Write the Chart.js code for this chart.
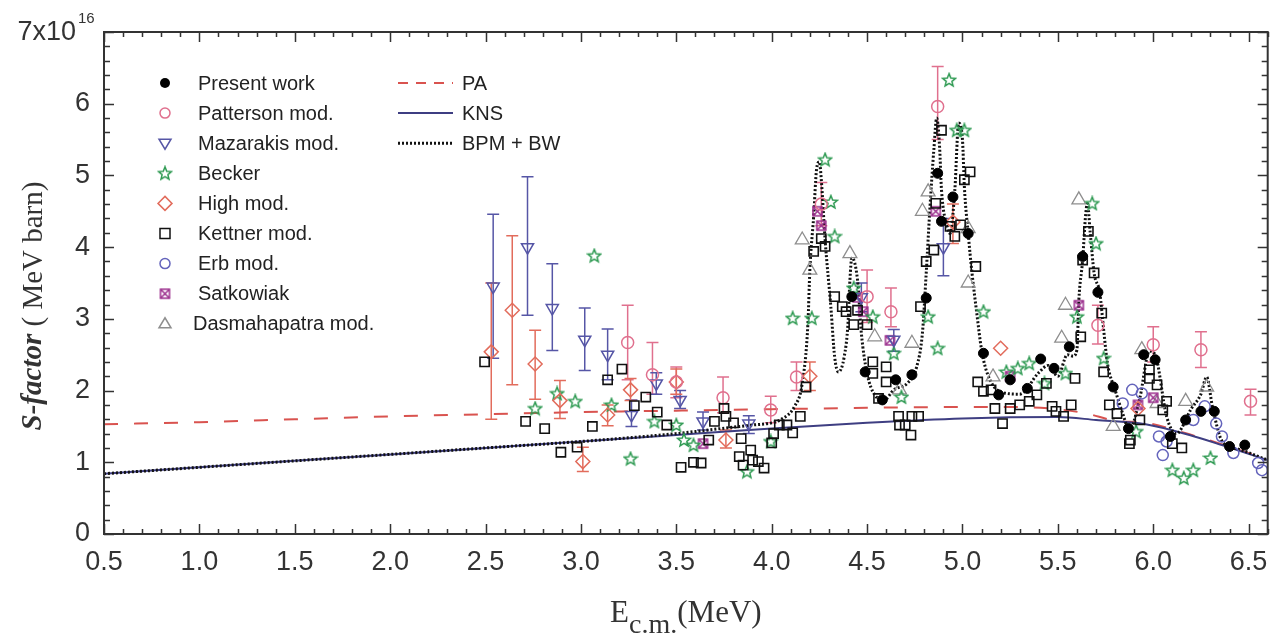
<!DOCTYPE html>
<html><head><meta charset="utf-8">
<script src="https://cdn.jsdelivr.net/npm/chart.js@4/dist/chart.umd.min.js"></script>
<style>html,body{margin:0;padding:0;background:#fff;}canvas{display:block;}</style>
</head><body>
<canvas id="c" width="1277" height="634"></canvas>
<script>
// ---------------- DATA ----------------
const xTickValues = [0.5,1.0,1.5,2.0,2.5,3.0,3.5,4.0,4.5,5.0,5.5,6.0,6.5];
const yTickLabels = ['0','1','2','3','4','5','6'];

const presentX = [4.42,4.49,4.58,4.65,4.735,4.81,4.87,4.89,4.95,5.03,5.11,5.19,5.25,5.34,5.41,5.48,5.56,5.63,5.71,5.79,5.87,5.95,6.01,6.09,6.17,6.25,6.32,6.40,6.48];
const presentY = [3.31,2.26,1.87,2.15,2.22,3.29,5.03,4.36,4.70,4.19,2.52,1.94,2.15,2.03,2.44,2.31,2.61,3.87,3.37,2.05,1.47,2.50,2.43,1.36,1.59,1.71,1.71,1.22,1.24];

const pattX  = [3.245,3.375,3.50,3.745,3.995,4.13,4.26,4.50,4.625,4.87,5.71,6.00,6.25,6.51];
const pattY  = [2.67,2.22,2.12,1.90,1.73,2.19,4.60,3.31,3.10,5.96,2.91,2.64,2.57,1.85];
const pattLo = [2.15,1.95,1.90,1.69,1.55,2.00,4.30,2.95,2.89,5.50,2.65,2.40,2.32,1.66];
const pattHi = [3.19,2.67,2.33,2.19,1.92,2.40,4.90,3.68,3.43,6.52,3.19,2.89,2.82,2.02];

const mazX  = [2.54,2.72,2.85,3.02,3.14,3.265,3.395,3.52,3.64,3.88,4.47,4.64,4.90];
const mazY  = [3.45,4.00,3.15,2.71,2.50,1.66,2.10,1.87,1.57,1.54,3.30,2.71,4.00];
const mazLo = [2.45,3.05,2.56,2.28,2.15,1.50,1.95,1.75,1.45,1.40,3.10,2.55,3.60];
const mazHi = [4.46,4.98,3.77,3.15,2.86,1.87,2.25,2.00,1.70,1.65,3.50,2.85,4.40];

const beckerX = [2.76,2.875,2.97,3.07,3.16,3.26,3.385,3.50,3.54,3.59,3.87,3.995,4.11,4.21,4.28,4.31,4.33,4.43,4.53,4.64,4.68,4.82,4.87,4.93,4.97,5.01,5.11,5.23,5.29,5.35,5.43,5.54,5.60,5.68,5.70,5.74,5.91,6.10,6.16,6.21,6.30];
const beckerY = [1.75,1.96,1.85,3.88,1.80,1.05,1.57,1.52,1.31,1.24,0.87,1.29,3.01,3.01,5.22,4.63,4.15,3.43,3.03,2.52,1.91,3.03,2.59,6.33,5.63,5.63,3.10,2.26,2.31,2.38,2.10,2.24,3.03,4.61,4.05,2.45,1.43,0.89,0.78,0.89,1.06];

const highX  = [2.53,2.64,2.76,2.89,3.01,3.14,3.26,3.50,3.76,4.20,4.95,5.20,5.92];
const highY  = [2.54,3.12,2.37,1.86,1.01,1.66,2.01,2.12,1.31,2.20,4.35,2.59,1.75];
const highLo = [1.60,2.08,1.88,1.61,0.87,1.51,1.86,1.95,1.20,2.00,4.05,2.59,1.75];
const highHi = [3.50,4.16,2.84,2.14,1.21,1.80,2.17,2.30,1.45,2.40,4.60,2.59,1.75];

const kettnerX = [2.495,2.71,2.81,2.895,2.98,3.06,3.14,3.215,3.28,3.34,3.40,3.45,3.525,3.59,3.63,3.67,3.70,3.75,3.76,3.80,3.83,3.84,3.85,3.89,3.90,3.93,3.96,4.00,4.01,4.04,4.08,4.11,4.15,4.18,4.22,4.26,4.28,4.33,4.37,4.39,4.43,4.45,4.50,4.53,4.53,4.56,4.60,4.60,4.665,4.67,4.70,4.73,4.735,4.77,4.78,4.81,4.85,4.86,4.89,4.935,4.96,4.99,5.01,5.04,5.07,5.08,5.11,5.15,5.17,5.21,5.25,5.30,5.35,5.39,5.44,5.47,5.49,5.53,5.57,5.59,5.62,5.63,5.66,5.69,5.73,5.74,5.77,5.81,5.875,5.88,5.93,5.98,5.98,6.02,6.05,6.07,6.10,6.15];
const kettnerY = [2.40,1.57,1.47,1.14,1.21,1.50,2.15,2.30,1.79,1.91,1.70,1.52,0.93,1.00,0.99,1.31,1.57,1.75,1.64,1.55,1.08,1.33,0.96,1.17,1.03,1.01,0.92,1.27,1.40,1.52,1.52,1.41,1.64,2.05,3.94,4.12,4.01,3.31,3.17,3.10,2.92,3.12,2.92,2.40,2.24,1.89,2.33,2.12,1.64,1.52,1.52,1.38,1.64,1.64,3.17,3.80,3.96,4.61,5.63,4.29,4.15,4.31,4.94,5.05,3.73,2.12,1.99,2.01,1.75,1.54,1.75,1.80,1.85,1.94,2.10,1.78,1.71,1.64,1.80,2.17,2.75,3.82,4.22,3.64,3.08,2.26,1.80,1.68,1.26,1.31,1.59,2.29,2.17,2.08,1.73,1.85,1.26,1.20];

const erbX = [5.84,5.89,5.94,6.03,6.05,6.07,6.21,6.27,6.33,6.36,6.42,6.55,6.57];
const erbY = [1.82,2.01,1.96,1.36,1.10,1.29,1.59,1.78,1.54,1.36,1.13,0.99,0.89];

const satX = [3.64,4.24,4.26,4.45,4.48,4.62,4.86,5.25,5.61,5.92,6.00];
const satY = [1.26,4.50,4.30,3.30,3.10,2.70,4.50,2.20,3.19,1.80,1.90];

const dasX = [4.16,4.20,4.41,4.54,4.67,4.735,4.79,4.82,5.03,5.03,5.16,5.52,5.54,5.61,5.79,5.94,6.02,6.17,6.28];
const dasY = [4.10,3.68,3.91,2.75,2.01,2.66,4.50,4.77,4.26,3.50,2.19,2.73,3.19,4.66,1.50,2.57,1.82,1.85,2.05];

const paX = [0.5,1.0,1.5,2.0,2.5,3.0,3.5,4.0,4.5,5.0,5.3,5.5,5.65,5.8,5.96,6.19,6.36,6.6];
const paY = [1.53,1.56,1.60,1.64,1.67,1.70,1.72,1.74,1.76,1.77,1.77,1.74,1.68,1.58,1.55,1.39,1.25,1.04];

const knsX = [0.5,1.0,1.5,2.0,2.5,3.0,3.5,4.0,4.5,5.0,5.5,5.7,5.96,6.19,6.36,6.6];
const knsY = [0.84,0.93,1.02,1.11,1.20,1.29,1.38,1.47,1.55,1.61,1.63,1.59,1.53,1.38,1.24,1.03];

const bpmX = [0.5,1.0,1.5,2.0,2.5,3.0,3.5,3.7,3.9,4.0,4.05,4.12,4.16,4.19,4.20,4.22,4.235,4.25,4.26,4.28,4.31,4.33,4.35,4.38,4.40,4.41,4.42,4.45,4.47,4.50,4.54,4.59,4.64,4.71,4.76,4.79,4.81,4.83,4.85,4.865,4.88,4.89,4.92,4.935,4.96,4.98,5.00,5.01,5.03,5.05,5.075,5.10,5.13,5.2,5.3,5.4,5.45,5.5,5.55,5.58,5.60,5.61,5.63,5.645,5.655,5.67,5.69,5.72,5.74,5.76,5.80,5.84,5.875,5.93,5.98,6.01,6.07,6.12,6.20,6.25,6.28,6.31,6.36,6.45,6.6];
const bpmY = [0.84,0.93,1.02,1.11,1.20,1.29,1.40,1.46,1.52,1.55,1.60,1.78,2.10,2.94,3.68,4.43,5.08,5.19,4.94,4.10,3.17,2.47,2.26,2.47,2.94,3.54,3.85,3.54,2.80,2.24,1.94,1.87,2.01,2.10,2.33,2.80,3.64,4.57,5.36,5.80,5.40,4.80,4.29,4.19,4.80,5.73,5.50,4.84,4.19,3.64,3.08,2.57,2.24,1.98,1.95,2.25,2.35,2.20,2.50,2.48,2.57,3.26,3.82,4.43,4.61,4.19,3.64,3.36,2.85,2.38,2.01,1.68,1.45,1.90,2.55,2.50,1.64,1.40,1.75,1.95,2.19,1.78,1.30,1.18,1.03];

// ---------------- helpers ----------------
function pts(xs, ys){ return xs.map((x,i)=>({x:x, y:ys[i]})); }

function makeStar(color){
  const c = document.createElement('canvas'); c.width = 16; c.height = 16;
  const g = c.getContext('2d'); g.strokeStyle = color; g.lineWidth = 1.5;
  g.beginPath();
  for (let k=0;k<10;k++){
    const r = (k%2===0)?6.8:3.0, a = -Math.PI/2 + k*Math.PI/5;
    const px = 8 + r*Math.cos(a), py = 8.4 + r*Math.sin(a);
    if(k===0) g.moveTo(px,py); else g.lineTo(px,py);
  }
  g.closePath(); g.stroke();
  return c;
}
function makeSat(color){
  const c = document.createElement('canvas'); c.width = 13; c.height = 13;
  const g = c.getContext('2d'); g.strokeStyle = color; g.lineWidth = 1.5;
  g.strokeRect(2,2,9,9);
  g.beginPath(); g.moveTo(2,2); g.lineTo(11,11); g.moveTo(11,2); g.lineTo(2,11); g.stroke();
  return c;
}

const COL = {
  present:'#000000', patt:'#e0708e', maz:'#5656a6', becker:'#2e9a52', high:'#e26c5c',
  kettner:'#111111', erb:'#6464bc', sat:'#9a2c8c', das:'#8e8e8e',
  pa:'#d9534f', kns:'#3e3e82', bpm:'#111111'
};
const starImg = makeStar(COL.becker);
const satImg = makeSat(COL.sat);

const NONE = 'rgba(0,0,0,0)';
const datasets = [
  {label:'Present work', data:pts(presentX,presentY), pointStyle:'circle', pointRadius:5, backgroundColor:COL.present, borderColor:COL.present, borderWidth:1, order:0},
  {label:'Kettner mod.', data:pts(kettnerX,kettnerY), pointStyle:'rect', pointRadius:6.5, backgroundColor:NONE, borderColor:COL.kettner, borderWidth:1.6, order:1},
  {label:'Patterson mod.', data:pts(pattX,pattY), errLo:pattLo, errHi:pattHi, pointStyle:'circle', pointRadius:6, backgroundColor:NONE, borderColor:COL.patt, borderWidth:1.5, order:2},
  {label:'Mazarakis mod.', data:pts(mazX,mazY), errLo:mazLo, errHi:mazHi, pointStyle:'triangle', rotation:180, pointRotation:180, pointRadius:7, backgroundColor:NONE, borderColor:COL.maz, borderWidth:1.5, order:3},
  {label:'High mod.', data:pts(highX,highY), errLo:highLo, errHi:highHi, pointStyle:'rectRot', pointRadius:7, backgroundColor:NONE, borderColor:COL.high, borderWidth:1.5, order:4},
  {label:'Becker', data:pts(beckerX,beckerY), pointStyle:starImg, pointRadius:7, backgroundColor:NONE, borderColor:COL.becker, order:5},
  {label:'Erb mod.', data:pts(erbX,erbY), pointStyle:'circle', pointRadius:5.5, backgroundColor:NONE, borderColor:COL.erb, borderWidth:1.5, order:6},
  {label:'Satkowiak', data:pts(satX,satY), pointStyle:satImg, pointRadius:6, backgroundColor:NONE, borderColor:COL.sat, order:7},
  {label:'Dasmahapatra mod.', data:pts(dasX,dasY), pointStyle:'triangle', pointRadius:8, backgroundColor:NONE, borderColor:COL.das, borderWidth:1.3, order:8},
  {label:'BPM + BW', data:pts(bpmX,bpmY), showLine:true, pointRadius:0, borderColor:COL.bpm, borderWidth:3, borderDash:[2,2], cubicInterpolationMode:'monotone', fill:false, order:10},
  {label:'KNS', data:pts(knsX,knsY), showLine:true, pointRadius:0, borderColor:COL.kns, borderWidth:2, cubicInterpolationMode:'monotone', fill:false, order:11},
  {label:'PA', data:pts(paX,paY), showLine:true, pointRadius:0, borderColor:COL.pa, borderWidth:2, borderDash:[14,16], cubicInterpolationMode:'monotone', fill:false, order:12}
];

// ---------------- plugins ----------------
const errorBars = {
  id:'errorBars',
  beforeDatasetsDraw(chart){
    const ctx = chart.ctx, xs = chart.scales.x, ys = chart.scales.y, a = chart.chartArea;
    ctx.save();
    ctx.beginPath(); ctx.rect(a.left,a.top,a.right-a.left,a.bottom-a.top); ctx.clip();
    chart.data.datasets.forEach(ds=>{
      if(!ds.errLo) return;
      ctx.strokeStyle = ds.borderColor; ctx.lineWidth = 1.5;
      ds.data.forEach((p,i)=>{
        const lo = ds.errLo[i], hi = ds.errHi[i];
        if(lo==null || hi==null || hi-lo < 1e-6) return;
        const px = xs.getPixelForValue(p.x), pl = ys.getPixelForValue(lo), ph = ys.getPixelForValue(hi);
        ctx.beginPath();
        ctx.moveTo(px,pl); ctx.lineTo(px,ph);
        ctx.moveTo(px-6,pl); ctx.lineTo(px+6,pl);
        ctx.moveTo(px-6,ph); ctx.lineTo(px+6,ph);
        ctx.stroke();
      });
    });
    ctx.restore();
  }
};

function legendMarker(ctx, kind, x, y, color){
  ctx.save(); ctx.strokeStyle = color; ctx.fillStyle = color; ctx.lineWidth = 1.5;
  ctx.beginPath();
  if(kind==='dot'){ ctx.arc(x,y,5,0,2*Math.PI); ctx.fill(); }
  else if(kind==='circle'){ ctx.arc(x,y,5,0,2*Math.PI); ctx.stroke(); }
  else if(kind==='tdown'){ ctx.moveTo(x-6,y-4); ctx.lineTo(x+6,y-4); ctx.lineTo(x,y+6); ctx.closePath(); ctx.stroke(); }
  else if(kind==='tup'){ ctx.moveTo(x-6,y+4); ctx.lineTo(x+6,y+4); ctx.lineTo(x,y-6); ctx.closePath(); ctx.stroke(); }
  else if(kind==='diamond'){ ctx.moveTo(x,y-7); ctx.lineTo(x+7,y); ctx.lineTo(x,y+7); ctx.lineTo(x-7,y); ctx.closePath(); ctx.stroke(); }
  else if(kind==='square'){ ctx.rect(x-5,y-5,10,10); ctx.stroke(); }
  else if(kind==='star'){ ctx.drawImage(starImg, x-8, y-8); }
  else if(kind==='sat'){ ctx.drawImage(satImg, x-6.5, y-6.5); }
  ctx.restore();
}

const legendRows = [
  ['dot','Present work',COL.present],
  ['circle','Patterson mod.',COL.patt],
  ['tdown','Mazarakis mod.',COL.maz],
  ['star','Becker',COL.becker],
  ['diamond','High mod.',COL.high],
  ['square','Kettner mod.',COL.kettner],
  ['circle','Erb mod.',COL.erb],
  ['sat','Satkowiak',COL.sat],
  ['tup','Dasmahapatra mod.',COL.das]
];
const legendLines = [
  ['PA',COL.pa,[10,8],2],
  ['KNS',COL.kns,[],2],
  ['BPM + BW',COL.bpm,[2,2],3]
];

const frame = {
  id:'frame',
  afterDraw(chart){
    const ctx = chart.ctx, a = chart.chartArea, xs = chart.scales.x, ys = chart.scales.y;
    ctx.save();
    // frame
    ctx.strokeStyle = '#333'; ctx.lineWidth = 2;
    ctx.strokeRect(a.left, a.top, a.right-a.left, a.bottom-a.top);
    // ticks
    ctx.lineWidth = 1.5;
    ctx.beginPath();
    for(let k=0;k<=61;k++){
      const v = 0.5 + k*0.1; if(v>6.6001) break;
      const px = Math.round(xs.getPixelForValue(v))+0.5;
      const major = (k%5===0);
      const L = major?10:5;
      ctx.moveTo(px,a.bottom); ctx.lineTo(px,a.bottom-L);
      ctx.moveTo(px,a.top); ctx.lineTo(px,a.top+L);
    }
    for(let k=0;k<=35;k++){
      const v = k*0.2;
      const py = Math.round(ys.getPixelForValue(v))+0.5;
      const major = (k%5===0);
      const L = major?10:6;
      ctx.moveTo(a.left,py); ctx.lineTo(a.left+L,py);
      ctx.moveTo(a.right,py); ctx.lineTo(a.right-L,py);
    }
    ctx.stroke();

    // top y label 7x10^16
    ctx.fillStyle = '#333';
    ctx.textAlign = 'right'; ctx.textBaseline = 'alphabetic';
    ctx.font = '27px "Liberation Sans", Arial, sans-serif';
    ctx.fillText('7x10', 76, 40);
    ctx.textAlign = 'left';
    ctx.font = '15px "Liberation Sans", Arial, sans-serif';
    ctx.fillText('16', 78, 23);

    // y axis title
    ctx.save();
    ctx.translate(34, 306); ctx.rotate(-Math.PI/2);
    const f1 = 'italic bold 29px "Liberation Serif", "Times New Roman", serif';
    const f2 = '29px "Liberation Serif", "Times New Roman", serif';
    ctx.font = f1; const w1 = ctx.measureText('S-factor').width;
    ctx.font = f2; const w2 = ctx.measureText(' ( MeV barn)').width;
    let sx = -(w1+w2)/2;
    ctx.textBaseline = 'middle'; ctx.textAlign = 'left'; ctx.fillStyle = '#333';
    ctx.font = f1; ctx.fillText('S-factor', sx, 0);
    ctx.font = f2; ctx.fillText(' ( MeV barn)', sx+w1, 0);
    ctx.restore();

    // x axis title
    const fx = '31px "Liberation Serif", "Times New Roman", serif';
    const fs = '28px "Liberation Serif", "Times New Roman", serif';
    ctx.font = fx; const we = ctx.measureText('E').width, wm = ctx.measureText('(MeV)').width;
    ctx.font = fs; const wc = ctx.measureText('c.m.').width;
    let tx = (a.left+a.right)/2 - (we+wc+wm)/2;
    ctx.textAlign = 'left'; ctx.textBaseline = 'alphabetic'; ctx.fillStyle = '#333';
    ctx.font = fx; ctx.fillText('E', tx, 622);
    ctx.font = fs; ctx.fillText('c.m.', tx+we, 633);
    ctx.font = fx; ctx.fillText('(MeV)', tx+we+wc, 622);

    // legend
    ctx.font = '20px "Liberation Sans", Arial, sans-serif';
    ctx.textBaseline = 'middle'; ctx.textAlign = 'left';
    legendRows.forEach((r,i)=>{
      const y = 83 + i*30.1;
      legendMarker(ctx, r[0], 165, y, r[2]);
      ctx.fillStyle = '#222';
      ctx.fillText(r[1], i===8 ? 193 : 198, y+1);
    });
    legendLines.forEach((r,i)=>{
      const y = 83 + i*30.1;
      ctx.save();
      ctx.strokeStyle = r[1]; ctx.lineWidth = r[3]; ctx.setLineDash(r[2]);
      ctx.beginPath(); ctx.moveTo(398,y); ctx.lineTo(453,y); ctx.stroke();
      ctx.restore();
      ctx.fillStyle = '#222';
      ctx.fillText(r[0], 462, y+1);
    });
    ctx.restore();
  }
};

new Chart(document.getElementById('c'), {
  type:'scatter',
  data:{datasets:datasets},
  options:{
    responsive:false, animation:false, devicePixelRatio:1, events:[],
    layout:{padding:{top:32,right:5,left:0,bottom:0}},
    plugins:{legend:{display:false}, tooltip:{enabled:false}, title:{display:false}},
    scales:{
      x:{
        type:'linear', min:0.5, max:6.6,
        afterFit(s){ s.height = 100; s.paddingLeft = 0; s.paddingRight = 0; },
        afterBuildTicks(s){ s.ticks = xTickValues.map(v=>({value:v})); },
        ticks:{ callback:(v)=>Number(v).toFixed(1), font:{family:'"Liberation Sans", Arial, sans-serif', size:27}, color:'#333', padding:12, maxRotation:0, autoSkip:false },
        grid:{display:false, drawTicks:false},
        border:{display:false},
        title:{display:false}
      },
      y:{
        type:'linear', min:0, max:7,
        afterFit(s){ s.width = 104; s.paddingTop = 0; s.paddingBottom = 0; },
        afterBuildTicks(s){ s.ticks = yTickLabels.map(t=>({value:Number(t)})); },
        ticks:{ callback:(v)=>String(v), font:{family:'"Liberation Sans", Arial, sans-serif', size:27}, color:'#333', padding:14 },
        grid:{display:false, drawTicks:false},
        border:{display:false},
        title:{display:false}
      }
    }
  },
  plugins:[errorBars, frame]
});
</script>
</body></html>
